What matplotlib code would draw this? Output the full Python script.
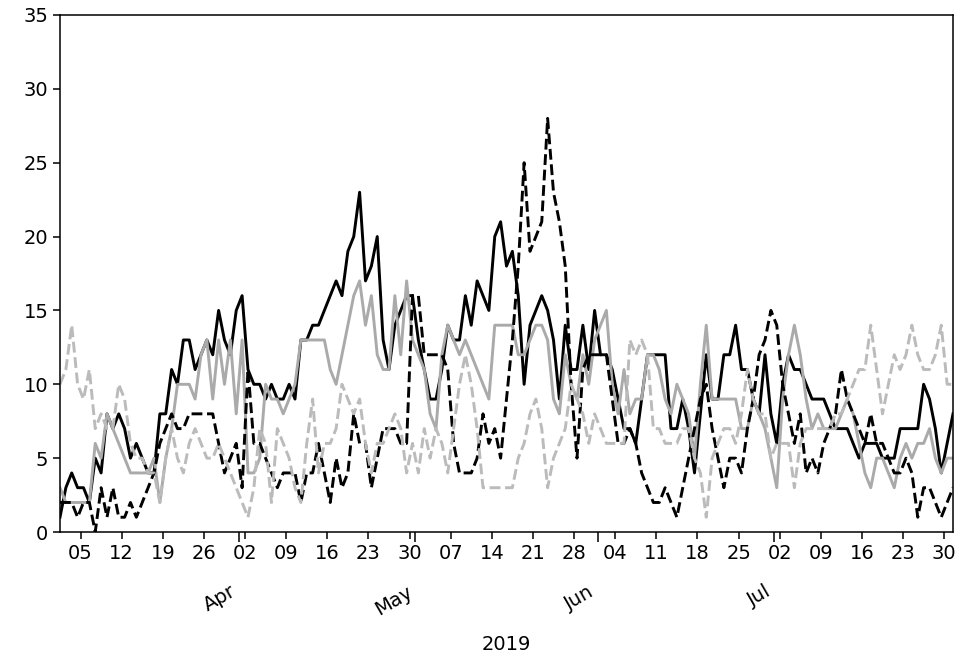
import pandas as pd
import matplotlib
matplotlib.use("Agg")
import matplotlib.pyplot as plt
import matplotlib.dates as mdates

# daily counts, 1 Mar - 31 Jul 2019
black_solid = [
    1, 3, 4, 3, 3, 2, 5, 4, 8, 7,
    8, 7, 5, 6, 5, 4, 4, 8, 8, 11,
    10, 13, 13, 11, 12, 13, 12, 15, 13, 12,
    15, 16, 11, 10, 10, 9, 10, 9, 9, 10,
    9, 13, 13, 14, 14, 15, 16, 17, 16, 19,
    20, 23, 17, 18, 20, 13, 11, 14, 15, 16,
    16, 13, 11, 9, 9, 11, 14, 13, 13, 16,
    14, 17, 16, 15, 20, 21, 18, 19, 16, 10,
    14, 15, 16, 15, 13, 9, 14, 11, 11, 14,
    11, 15, 12, 12, 11, 9, 7, 7, 6, 9,
    12, 12, 12, 12, 7, 7, 9, 7, 4, 8,
    12, 9, 9, 12, 12, 14, 11, 11, 9, 8,
    12, 8, 6, 10, 12, 11, 11, 10, 9, 9,
    9, 8, 7, 7, 7, 6, 5, 6, 6, 6,
    5, 5, 5, 7, 7, 7, 7, 10, 9, 7,
    4, 6, 8,
]
black_dashed = [
    2, 2, 2, 1, 2, 2, 0, 3, 1, 3,
    1, 1, 2, 1, 2, 3, 4, 6, 7, 8,
    7, 7, 8, 8, 8, 8, 8, 6, 4, 5,
    6, 3, 11, 6, 6, 5, 4, 3, 4, 4,
    4, 2, 4, 4, 6, 4, 2, 5, 3, 4,
    8, 6, 6, 3, 5, 7, 7, 7, 6, 6,
    16, 16, 12, 12, 12, 12, 11, 6, 4, 4,
    4, 5, 8, 6, 7, 5, 9, 13, 18, 25,
    19, 20, 21, 28, 23, 21, 18, 10, 5, 11,
    12, 12, 12, 12, 9, 6, 6, 7, 6, 4,
    3, 2, 2, 3, 2, 1, 3, 5, 7, 9,
    10, 7, 5, 3, 5, 5, 4, 7, 9, 12,
    13, 15, 14, 10, 8, 6, 8, 4, 5, 4,
    6, 7, 8, 11, 9, 8, 7, 6, 8, 6,
    6, 5, 4, 4, 5, 4, 1, 3, 3, 2,
    1, 2, 3,
]
gray_solid = [
    3, 2, 2, 2, 2, 2, 6, 5, 8, 7,
    6, 5, 4, 4, 4, 4, 5, 2, 5, 7,
    10, 10, 10, 9, 12, 13, 9, 13, 10, 13,
    8, 13, 4, 4, 5, 10, 9, 9, 8, 9,
    10, 13, 13, 13, 13, 13, 11, 10, 12, 14,
    16, 17, 14, 16, 12, 11, 11, 16, 12, 17,
    13, 12, 11, 8, 7, 12, 14, 13, 12, 13,
    12, 11, 10, 9, 14, 14, 14, 14, 12, 12,
    13, 14, 14, 13, 9, 8, 12, 10, 9, 12,
    10, 13, 14, 15, 10, 8, 11, 8, 9, 9,
    12, 12, 11, 9, 8, 10, 9, 8, 5, 10,
    14, 9, 9, 9, 9, 9, 7, 7, 9, 8,
    7, 5, 3, 9, 12, 14, 12, 9, 7, 8,
    7, 7, 7, 8, 9, 8, 6, 4, 3, 5,
    5, 4, 3, 5, 6, 5, 6, 6, 7, 5,
    4, 5, 5,
]
gray_dashed = [
    10, 11, 14, 10, 9, 11, 7, 8, 7, 7,
    10, 9, 6, 5, 5, 4, 4, 2, 5, 7,
    5, 4, 6, 7, 6, 5, 5, 6, 5, 4,
    3, 2, 1, 3, 7, 6, 2, 7, 6, 5,
    3, 2, 6, 9, 4, 6, 6, 7, 10, 9,
    8, 9, 6, 4, 6, 6, 7, 8, 7, 4,
    6, 4, 7, 5, 7, 6, 4, 7, 10, 12,
    10, 7, 3, 3, 3, 3, 3, 3, 5, 6,
    8, 9, 7, 3, 5, 6, 7, 10, 9, 8,
    6, 8, 7, 6, 6, 6, 6, 13, 12, 13,
    12, 7, 7, 6, 6, 6, 7, 7, 5, 4,
    1, 5, 6, 7, 7, 6, 8, 11, 9, 8,
    8, 5, 6, 6, 6, 3, 6, 7, 7, 7,
    7, 7, 8, 8, 9, 10, 11, 11, 14, 11,
    8, 10, 12, 11, 12, 14, 12, 11, 11, 12,
    14, 10, 10,
]

dates = pd.date_range("2019-03-01 12:00", periods=len(black_solid), freq="D")

plt.rcParams["font.size"] = 14

fig = plt.figure(figsize=(9.69, 6.72), dpi=100)
ax = fig.add_axes([0.0619, 0.2083, 0.9216, 0.7694])

ax.plot(dates, black_solid, color="black", lw=2.1)
ax.plot(dates, gray_solid, color="#aaaaaa", lw=2.1)
ax.plot(dates, black_dashed, color="black", lw=2.1, ls="--")
ax.plot(dates, gray_dashed, color="#bbbbbb", lw=2.1, ls="--")

ax.set_xlim(dates[0], dates[-1])
ax.set_ylim(0, 35)
ax.set_yticks(range(0, 36, 5))

ax.xaxis.set_major_locator(mdates.MonthLocator())
ax.xaxis.set_major_formatter(mdates.DateFormatter("%b"))
ax.xaxis.set_minor_locator(mdates.WeekdayLocator(byweekday=mdates.TU))
ax.xaxis.set_minor_formatter(mdates.DateFormatter("%d"))

ax.tick_params(axis="x", which="minor", length=4.9, width=1.1, labelsize=14)
ax.tick_params(axis="x", which="major", length=7, width=1.1, pad=29)
ax.tick_params(axis="y", length=4.9, width=1.1)
for lab in ax.get_xticklabels(which="major"):
    lab.set_rotation(30)
    lab.set_ha("right")
for sp in ax.spines.values():
    sp.set_linewidth(1.1)

ax.set_xlabel("2019", labelpad=12)

fig.savefig("out.png", dpi=100)
